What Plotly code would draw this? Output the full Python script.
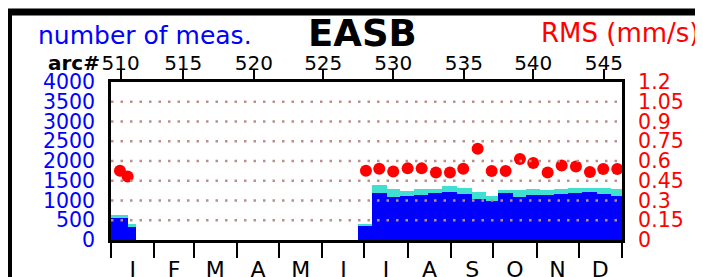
import plotly.graph_objects as go

# ---------------- data ----------------
arcs = [510, 511, 528, 529, 530, 531, 532, 533, 534, 535, 536, 537, 538, 539, 540,
        541, 542, 543, 544, 545, 546]
arc_start_day = [-3.0, 12.4, 176.6, 186.2, 196.9, 206.4, 216.4, 226.6, 236.2, 247.4,
                 257.6, 267.6, 276.6, 287.4, 296.4, 306.4, 316.4, 326.6, 336.2, 346.9, 356.9]
arc_end_day = [12.4, 17.6, 186.2, 196.9, 206.4, 216.4, 226.6, 236.2, 247.4, 257.6,
               267.6, 276.6, 287.4, 296.4, 306.4, 316.4, 326.6, 336.2, 346.9, 356.9, 367.0]
n_used = [560, 333, 355, 1191, 1080, 1123, 1148, 1191, 1206, 1166, 1047, 979, 1181,
          1098, 1141, 1148, 1174, 1191, 1206, 1156, 1115]
n_total = [644, 416, 385, 1383, 1300, 1249, 1292, 1292, 1358, 1317, 1216, 1105, 1274,
           1257, 1300, 1257, 1300, 1307, 1325, 1317, 1300]

rms_day = [6.4, 11.9, 182.1, 191.6, 201.6, 211.9, 221.9, 232.1, 242.1, 251.6, 261.9,
           271.9, 281.9, 292.1, 301.6, 311.9, 321.9, 332.1, 342.1, 351.6, 361.6]
rms = [0.526, 0.483, 0.526, 0.541, 0.521, 0.544, 0.544, 0.513, 0.513, 0.541, 0.693,
       0.524, 0.524, 0.615, 0.584, 0.513, 0.566, 0.559, 0.516, 0.539, 0.539]

month_letters = ["J", "F", "M", "A", "M", "J", "J", "A", "S", "O", "N", "D"]
month_start_day = [0, 31, 59, 90, 120, 151, 181, 212, 243, 273, 304, 334, 365]

arc_tick_labels = ["510", "515", "520", "525", "530", "535", "540", "545"]
arc_tick_day = [6.9, 51.6, 102.1, 151.6, 201.6, 252.1, 301.6, 352.1]

count_ticks = [0, 500, 1000, 1500, 2000, 2500, 3000, 3500, 4000]
rms_ticks = [0, 0.15, 0.3, 0.45, 0.6, 0.75, 0.9, 1.05, 1.2]
rms_tick_text = ["0", "0.15", "0.3", "0.45", "0.6", "0.75", "0.9", "1.05", "1.2"]

# ---------------- derived ----------------
bar_x = [(a + b) / 2 for a, b in zip(arc_start_day, arc_end_day)]
bar_w = [b - a for a, b in zip(arc_start_day, arc_end_day)]
n_extra = [t - u for t, u in zip(n_total, n_used)]
month_mid = [(month_start_day[i] + month_start_day[i + 1]) / 2 for i in range(12)]

FONT = "DejaVu Sans"
BLUE = "#0000ff"
TURQ = "#40e0d0"
RED = "#ff0000"
GRID = "#bc8f8f"

# plot area in page pixels (page body has an 8px margin)
PX0, PX1, PY0, PY1 = 111, 622, 82, 240
PW, PH = PX1 - PX0, PY1 - PY0


def px(x):
    return (x - PX0) / PW


def py(y):
    return (PY1 - y) / PH


fig = go.Figure()
fig.add_trace(go.Bar(x=bar_x, y=n_used, width=bar_w, marker=dict(color=BLUE, line=dict(width=0)),
                     xaxis="x", yaxis="y", showlegend=False, hoverinfo="skip"))
fig.add_trace(go.Bar(x=bar_x, y=n_extra, width=bar_w, marker=dict(color=TURQ, line=dict(width=0)),
                     xaxis="x", yaxis="y", showlegend=False, hoverinfo="skip"))
fig.add_trace(go.Scatter(x=rms_day, y=rms, mode="markers",
                         marker=dict(color=RED, size=12, line=dict(width=0)),
                         xaxis="x", yaxis="y2", showlegend=False, cliponaxis=True))
# helper traces so the extra axes get drawn
fig.add_trace(go.Scatter(x=[0], y=[0], mode="markers", marker=dict(opacity=0),
                         xaxis="x2", yaxis="y", showlegend=False, hoverinfo="skip"))
fig.add_trace(go.Scatter(x=[0], y=[0], mode="markers", marker=dict(opacity=0),
                         xaxis="x3", yaxis="y", showlegend=False, hoverinfo="skip"))

# dotted gridlines above the bars
shapes = []
for v in count_ticks[1:-1]:
    shapes.append(dict(type="line", xref="paper", x0=0, x1=1, yref="y", y0=v, y1=v,
                       line=dict(color=GRID, width=2.5, dash="2.5px,7px"), layer="above"))
# outer frame
shapes.append(dict(type="rect", xref="paper", yref="paper",
                   x0=px(8.5), x1=2.0, y0=-1.0, y1=py(12),
                   line=dict(color="black", width=7), fillcolor="rgba(0,0,0,0)", layer="above"))

W, H = 695, 269
fig.update_layout(
    width=W, height=H,
    margin=dict(l=PX0 - 8, r=W - (PX1 - 8), t=PY0 - 8, b=H - (PY1 - 8), autoexpand=False),
    paper_bgcolor="white", plot_bgcolor="white",
    barmode="stack", bargap=0,
    font=dict(family=FONT, color="black"),
    shapes=shapes,
    xaxis=dict(range=[0, 365], tickvals=month_start_day, ticktext=[""] * len(month_start_day),
               ticks="outside", ticklen=15, tickwidth=2, tickcolor="black",
               showline=True, linewidth=2.5, linecolor="black", mirror=True,
               showgrid=False, zeroline=False, automargin=False),
    xaxis2=dict(range=[0, 365], overlaying="x", side="top", anchor="y",
                tickvals=arc_tick_day, ticktext=arc_tick_labels,
                ticks="outside", ticklen=12, tickwidth=2, tickcolor="black",
                ticklabelstandoff=-9,
                tickfont=dict(family=FONT, size=20, color="black"),
                showline=False, showgrid=False, zeroline=False, automargin=False),
    xaxis3=dict(range=[0, 365], overlaying="x", side="bottom", anchor="y",
                tickvals=month_mid, ticktext=month_letters,
                ticks="outside", ticklen=10, tickcolor="rgba(0,0,0,0)",
                tickfont=dict(family=FONT, size=22, color="black"),
                showline=False, showgrid=False, zeroline=False, automargin=False),
    yaxis=dict(range=[0, 4000], tickvals=count_ticks, ticktext=[str(v) for v in count_ticks],
               ticks="outside", ticklen=9, tickcolor="rgba(0,0,0,0)",
               tickfont=dict(family=FONT, size=20.5, color=BLUE),
               showline=True, linewidth=2.5, linecolor="black", mirror=True,
               showgrid=False, zeroline=False, automargin=False),
    yaxis2=dict(range=[0, 1.2], overlaying="y", side="right", anchor="x",
                tickvals=rms_ticks, ticktext=rms_tick_text,
                ticks="outside", ticklen=11, tickcolor="rgba(0,0,0,0)",
                tickfont=dict(family=FONT, size=20.5, color=RED),
                showline=False, showgrid=False, zeroline=False, automargin=False),
    annotations=[
        dict(text="number of meas.", xref="paper", yref="paper",
             x=px(36), y=py(35.4), xanchor="left", yanchor="middle",
             showarrow=False, font=dict(family=FONT, size=25, color=BLUE)),
        dict(text="<b>EASB</b>", xref="paper", yref="paper",
             x=px(362.5), y=py(33.9), xanchor="center", yanchor="middle",
             showarrow=False, font=dict(family=FONT, size=37, color="black")),
        dict(text="RMS (mm/s)", xref="paper", yref="paper",
             x=px(702), y=py(32.7), xanchor="right", yanchor="middle",
             showarrow=False, font=dict(family=FONT, size=26, color=RED)),
        dict(text="<b>arc#</b>", xref="paper", yref="paper",
             x=px(102), y=py(63), xanchor="right", yanchor="middle",
             showarrow=False, font=dict(family=FONT, size=20, color="black")),
    ],
)

fig.write_html("out.html")
